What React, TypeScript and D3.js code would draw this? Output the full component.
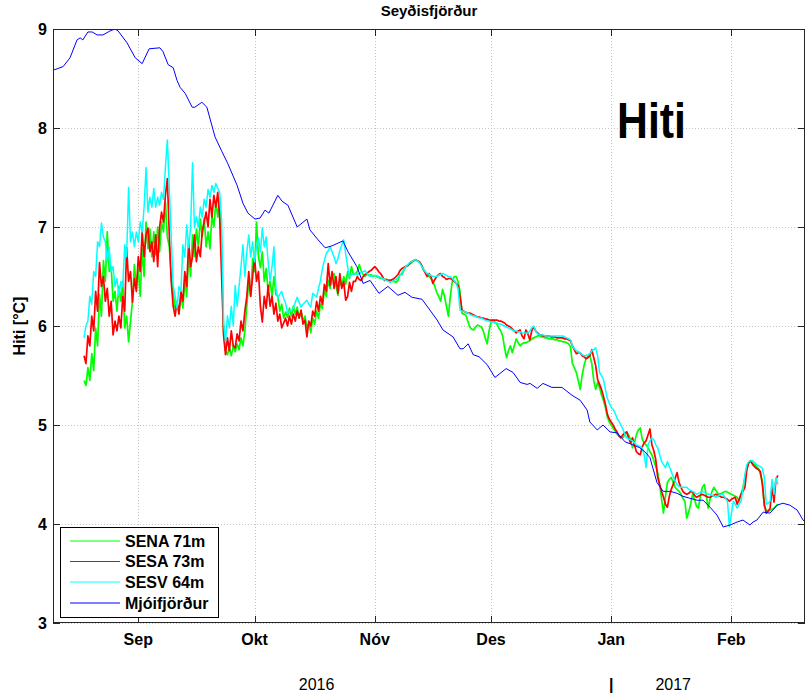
import React from 'react';
import * as d3 from 'd3';

// ---- data ----
const chartTitle = 'Seyðisfjörður';
const yAxisLabel = 'Hiti [°C]';
const panelLabel = 'Hiti';

// time axis: days counted from this date
const baseDate = '2016-08-10';
const axisEndDay = 194;
const monthTickDates = ['2016-09-01', '2016-10-01', '2016-11-01', '2016-12-01', '2017-01-01', '2017-02-01'];
const monthTickLabels = ['Sep', 'Okt', 'Nóv', 'Des', 'Jan', 'Feb'];
const yTickValues = [3, 4, 5, 6, 7, 8, 9];
const yearLabels = ['2016', '2017'];
const yearLabelDates = ['2016-10-17', '2017-01-17'];
const yearSeparatorDate = '2017-01-01';

// buoy series are sampled every half day starting at day 8 (Aug 18)
const buoyStartDay = 8;
const buoyStepDays = 0.5;

const senaTemp = [
  5.45,5.40,5.58,5.45,5.72,5.55,5.98,5.80,6.32,6.10,
  6.66,6.45,6.95,6.55,6.60,6.25,6.35,6.15,6.40,6.25,
  6.45,5.98,6.10,5.84,6.05,6.25,6.62,6.38,6.58,6.30,
  6.78,6.50,7.05,6.78,6.98,6.70,6.95,6.72,7.00,6.75,
  7.05,6.95,7.25,6.90,6.80,6.50,6.35,6.18,6.22,6.14,
  6.30,6.18,6.45,6.30,6.72,6.50,6.92,6.70,6.98,6.80,
  7.08,6.90,7.09,6.80,6.95,6.78,7.12,7.00,7.25,7.10,
  7.29,6.80,5.95,5.75,5.71,5.78,5.70,5.80,5.74,5.82,
  5.76,5.88,5.80,5.95,6.20,6.45,6.30,6.68,6.55,7.05,
  6.70,6.59,6.75,6.45,6.58,6.35,6.45,6.30,6.50,6.32,
  6.30,6.15,6.22,6.08,6.14,6.09,6.18,6.10,6.20,6.12,
  6.19,6.08,6.15,6.05,6.10,5.98,6.03,5.93,6.08,6.02,
  6.15,6.08,6.22,6.18,6.36,6.30,6.46,6.38,6.50,6.53,
  6.42,6.31,6.45,6.40,6.50,6.42,6.55,6.48,6.60,6.52,
  6.53,6.55,6.62,6.56,6.52,6.50,6.53,6.51,6.52,6.50,
  6.51,6.50,6.49,6.48,6.48,6.47,6.47,6.46,6.46,6.45,
  6.45,6.44,6.46,6.52,6.52,6.56,6.60,6.61,6.63,6.64,
  6.66,6.67,6.66,6.65,6.62,6.57,6.55,6.52,6.50,6.48,
  6.45,6.40,6.34,6.30,6.25,6.37,6.30,6.20,6.10,6.30,
  6.45,6.50,6.50,6.45,6.35,6.13,6.12,6.11,6.05,5.99,
  5.97,5.96,5.99,6.01,6.00,5.99,5.95,5.88,5.82,5.95,
  6.04,6.06,6.04,6.02,5.98,5.95,5.90,5.78,5.68,5.75,
  5.80,5.73,5.80,5.87,5.83,5.80,5.82,5.83,5.83,5.84,
  5.85,5.87,5.88,5.89,5.90,5.90,5.89,5.89,5.88,5.88,
  5.87,5.87,5.87,5.86,5.86,5.85,5.85,5.84,5.84,5.83,
  5.82,5.79,5.62,5.58,5.53,5.45,5.36,5.50,5.60,5.67,
  5.69,5.70,5.62,5.45,5.36,5.43,5.38,5.30,5.25,5.18,
  5.08,5.03,5.00,4.97,4.94,4.91,4.89,4.88,4.87,4.90,
  4.93,4.90,4.85,4.77,4.82,4.90,4.95,4.97,4.86,4.82,
  4.80,4.77,4.73,4.70,4.64,4.58,4.52,4.40,4.25,4.11,
  4.28,4.42,4.45,4.47,4.42,4.37,4.35,4.33,4.30,4.26,
  4.23,4.06,4.12,4.20,4.30,4.25,4.18,4.16,4.28,4.37,
  4.40,4.30,4.16,4.25,4.33,4.37,4.34,4.31,4.30,4.31,
  4.32,4.33,4.32,4.31,4.30,4.29,4.28,4.27,4.23,4.30,
  4.37,4.47,4.57,4.62,4.63,4.61,4.60,4.58,4.56,4.50,
  4.43,4.18,4.14,4.13,4.14,4.15,4.16,4.18,4.20,
];

const sesaTemp = [
  5.70,5.62,5.90,5.80,6.10,5.95,6.35,6.15,6.64,6.40,
  6.50,6.25,6.38,6.10,6.25,5.91,6.05,5.95,6.10,5.98,
  6.30,6.15,6.79,6.45,6.55,6.24,6.48,6.35,6.70,6.55,
  6.95,6.70,6.92,6.99,6.75,6.85,6.65,6.92,6.60,7.00,
  7.15,7.05,7.32,7.49,6.92,6.45,6.20,6.10,6.25,6.12,
  6.35,6.25,6.55,6.40,6.85,6.60,6.70,6.92,6.65,6.80,
  6.70,6.95,7.05,7.15,7.00,7.28,7.10,7.32,7.20,7.35,
  7.10,6.51,5.91,5.71,5.88,5.75,5.95,5.80,5.78,5.92,
  5.85,6.05,5.95,6.15,6.30,6.55,6.30,6.50,6.69,6.45,
  6.55,6.20,6.04,6.30,6.18,6.41,6.20,6.30,6.12,6.23,
  6.05,6.12,5.98,6.03,6.08,6.00,6.10,6.02,6.12,6.05,
  6.15,6.08,6.16,6.02,6.06,5.89,6.05,6.00,6.15,6.10,
  6.25,6.15,6.30,6.22,6.42,6.35,6.63,6.41,6.55,6.38,
  6.50,6.33,6.53,6.38,6.45,6.26,6.30,6.44,6.35,6.45,
  6.45,6.50,6.47,6.46,6.50,6.52,6.53,6.55,6.56,6.58,
  6.60,6.58,6.55,6.53,6.50,6.46,6.47,6.46,6.46,6.47,
  6.48,6.50,6.52,6.56,6.58,6.59,6.60,6.61,6.63,6.65,
  6.66,6.67,6.66,6.65,6.62,6.58,6.54,6.50,6.53,6.50,
  6.43,6.47,6.50,6.52,6.53,6.50,6.49,6.47,6.48,6.48,
  6.47,6.45,6.43,6.41,6.30,6.16,6.15,6.14,6.13,6.13,
  6.12,6.11,6.10,6.09,6.09,6.08,6.08,6.07,6.07,6.06,
  6.06,6.06,6.06,6.06,6.05,6.05,6.04,6.03,6.01,6.00,
  5.99,5.97,5.95,5.93,5.95,5.96,5.90,5.87,5.96,5.92,
  5.86,5.95,5.99,5.95,5.93,5.91,5.91,5.90,5.90,5.90,
  5.90,5.89,5.89,5.89,5.88,5.88,5.88,5.88,5.87,5.87,
  5.86,5.85,5.80,5.76,5.72,5.73,5.73,5.70,5.69,5.67,
  5.68,5.70,5.76,5.68,5.60,5.46,5.41,5.36,5.29,5.21,
  5.11,5.06,5.03,5.00,4.96,4.93,4.89,4.87,4.90,4.92,
  4.93,4.87,4.82,4.87,4.80,4.73,4.71,4.70,4.78,4.82,
  4.84,4.90,4.96,4.80,4.74,4.65,4.47,4.40,4.33,4.27,
  4.20,4.17,4.28,4.35,4.40,4.46,4.52,4.42,4.37,4.33,
  4.31,4.30,4.31,4.33,4.32,4.29,4.27,4.28,4.29,4.30,
  4.29,4.28,4.27,4.27,4.28,4.29,4.30,4.29,4.28,4.27,
  4.27,4.26,4.25,4.23,4.25,4.26,4.27,4.20,4.25,4.30,
  4.33,4.37,4.55,4.62,4.64,4.60,4.58,4.56,4.55,4.53,
  4.40,4.20,4.11,4.13,4.16,4.38,4.22,4.45,4.49,
];

const sesvTemp = [
  5.88,6.00,6.05,6.30,6.22,6.55,6.50,6.85,6.80,7.04,
  6.90,6.85,6.65,6.79,6.55,6.60,6.40,6.48,6.31,6.45,
  6.40,6.82,6.70,7.40,6.85,6.95,6.80,6.95,6.85,7.05,
  6.95,7.20,7.60,7.15,7.30,7.20,7.39,7.20,7.30,7.22,
  7.35,7.28,7.60,7.88,7.40,6.90,6.41,6.30,6.18,6.40,
  6.35,6.82,6.70,7.02,6.79,7.00,7.65,6.99,7.10,7.00,
  7.20,7.10,7.28,7.20,7.38,7.30,7.42,7.35,7.44,7.39,
  7.35,7.05,6.04,5.84,6.10,5.98,6.20,6.00,6.41,6.20,
  6.40,6.60,6.82,6.50,6.75,6.92,6.70,6.85,6.65,6.80,
  6.89,6.75,6.99,6.80,6.90,6.65,6.46,6.60,6.80,6.38,
  6.28,6.32,6.35,6.28,6.23,6.13,6.15,6.16,6.18,6.24,
  6.29,6.24,6.19,6.22,6.24,6.26,6.22,6.19,6.33,6.31,
  6.29,6.38,6.46,6.58,6.66,6.73,6.76,6.80,6.75,6.70,
  6.63,6.68,6.76,6.82,6.87,6.73,6.60,6.50,6.52,6.53,
  6.53,6.52,6.53,6.54,6.55,6.56,6.53,6.51,6.50,6.51,
  6.51,6.51,6.50,6.49,6.48,6.47,6.46,6.45,6.44,6.45,
  6.46,6.47,6.49,6.51,6.54,6.57,6.60,6.62,6.64,6.65,
  6.66,6.67,6.66,6.64,6.61,6.58,6.55,6.53,6.52,6.51,
  6.50,6.50,6.50,6.51,6.52,6.53,6.52,6.51,6.50,6.50,
  6.48,6.46,6.43,6.38,6.16,6.15,6.15,6.14,6.13,6.12,
  6.11,6.10,6.10,6.09,6.08,6.08,6.07,6.06,6.05,6.05,
  6.04,6.04,6.03,6.03,6.02,6.02,6.01,6.00,5.99,5.98,
  5.97,5.96,5.95,5.95,5.94,5.94,5.93,5.93,5.93,5.93,
  5.95,5.98,6.00,5.95,5.92,5.91,5.91,5.91,5.90,5.90,
  5.90,5.90,5.90,5.90,5.90,5.90,5.90,5.90,5.89,5.88,
  5.87,5.86,5.80,5.77,5.75,5.74,5.73,5.71,5.70,5.70,
  5.71,5.72,5.75,5.76,5.78,5.70,5.53,5.50,5.46,5.36,
  5.27,5.22,5.18,5.16,5.12,5.07,5.04,5.00,4.96,4.91,
  4.87,4.86,4.85,4.84,4.82,4.80,4.79,4.78,4.77,4.70,
  4.57,4.80,4.84,4.87,4.85,4.80,4.77,4.70,4.63,4.60,
  4.57,4.63,4.58,4.53,4.48,4.43,4.40,4.38,4.37,4.37,
  4.37,4.37,4.35,4.34,4.33,4.32,4.30,4.31,4.32,4.33,
  4.32,4.31,4.30,4.30,4.29,4.28,4.27,4.28,4.29,4.30,
  4.29,4.26,4.23,3.97,4.10,4.23,4.20,4.16,4.20,4.23,
  4.35,4.50,4.60,4.63,4.64,4.64,4.62,4.60,4.59,4.58,
  4.56,4.47,4.20,4.21,4.23,4.45,4.30,4.47,4.40,
];

// Mjóifjörður: day offsets and temperatures
const mjoiDay = [
  0,0.5,2.6,4.4,6.2,7.0,7.7,9.0,10.1,11.4,12.9,14.7,16.0,16.8,19.1,21.2,23.0,24.8,27.6,28.4,
  29.7,31.0,32.0,32.8,34.1,35.9,36.6,38.4,39.7,41.8,43.6,45.1,47.5,49.0,50.3,52.1,53.4,54.7,55.7,58.0,
  59.1,60.6,63.0,65.5,66.3,68.4,70.2,72.0,74.8,76.1,78.4,80.0,81.8,84.1,86.4,89.0,90.8,92.6,95.2,96.7,
  99.1,100.6,103.2,105.0,105.8,107.1,108.4,109.9,112.0,114.0,115.3,116.9,118.7,120.5,122.3,123.1,124.9,126.4,128.7,131.3,
  133.9,136.0,137.8,138.5,140.4,141.9,143.7,145.5,147.6,149.6,151.4,152.7,154.0,155.8,157.4,159.2,161.0,162.5,164.3,166.2,
  167.7,169.5,171.3,172.9,174.7,176.5,178.0,179.8,180.6,181.6,183.2,185.0,186.8,188.3,190.1,192.0,193.5,194.0,
];
const mjoiTemp = [
  8.59,8.59,8.62,8.71,8.89,8.91,8.89,8.97,8.97,8.94,8.94,8.98,9.00,8.98,8.86,8.71,8.65,8.80,8.81,8.77,
  8.64,8.61,8.48,8.41,8.35,8.21,8.21,8.26,8.21,7.91,7.76,7.64,7.42,7.24,7.14,7.08,7.09,7.17,7.14,7.32,
  7.26,7.22,7.00,7.08,6.97,6.87,6.79,6.81,6.86,6.75,6.60,6.43,6.46,6.33,6.40,6.31,6.34,6.29,6.27,6.19,
  6.06,5.96,5.89,5.77,5.77,5.82,5.71,5.69,5.61,5.48,5.52,5.57,5.53,5.43,5.41,5.42,5.37,5.42,5.38,5.38,
  5.30,5.25,5.15,5.03,4.95,5.00,4.93,4.92,4.83,4.80,4.77,4.73,4.67,4.42,4.33,4.33,4.31,4.28,4.26,4.24,
  4.24,4.17,4.09,3.97,3.99,4.02,4.04,3.99,4.02,4.04,4.12,4.11,4.19,4.21,4.19,4.14,4.04,4.02,
];

const seriesNames = ['SENA 71m', 'SESA 73m', 'SESV 64m', 'Mjóifjörður'];
const seriesColors = ['#00ff00', '#ff0000', '#00ffff', '#0000ff'];

const FONT = 'Arial, "Liberation Sans", Helvetica, sans-serif';

export default function App() {
  const W = 807;
  const H = 698;
  const plot = { left: 53, right: 805, top: 29, bottom: 623 };
  const DAY = 86400000;
  const t0 = Date.parse(baseDate + 'T00:00:00Z');
  const toDate = (d: number) => new Date(t0 + d * DAY);

  const x = d3.scaleUtc().domain([toDate(0), toDate(axisEndDay)]).range([plot.left, plot.right]);
  const y = d3.scaleLinear().domain([3, 9]).range([plot.bottom, plot.top]);

  const line = d3
    .line<[number, number]>()
    .x((d) => x(toDate(d[0])))
    .y((d) => y(d[1]));

  const buoy = (arr: number[]) => arr.map((v, i) => [buoyStartDay + i * buoyStepDays, v] as [number, number]);
  const seriesPts: [number, number][][] = [
    buoy(senaTemp),
    buoy(sesaTemp),
    buoy(sesvTemp),
    mjoiDay.map((d, i) => [d, mjoiTemp[i]] as [number, number]),
  ];
  const seriesWidths = [1.7, 1.7, 1.5, 1];

  const monthX = monthTickDates.map((s) => x(new Date(s + 'T00:00:00Z')));
  const axisColor = '#262626';
  const gridColor = '#c4c4c4';
  const tickLen = 7;

  const legend = { x: 60, y: 527, w: 158, h: 90 };
  const legendRows = [541, 561.5, 582, 603];

  return (
    <svg
      width={W}
      height={H}
      viewBox={`0 0 ${W} ${H}`}
      style={{ position: 'absolute', left: 0, top: 0, background: '#fff' }}
      fontFamily={FONT}
    >
      <rect x={0} y={0} width={W} height={H} fill="#fff" />
      <defs>
        <clipPath id="plotclip">
          <rect x={plot.left} y={plot.top} width={plot.right - plot.left} height={plot.bottom - plot.top} />
        </clipPath>
      </defs>

      {/* grid */}
      <g stroke={gridColor} strokeWidth={1} strokeDasharray="1 2" shapeRendering="crispEdges">
        {monthX.map((mx, i) => (
          <line key={'gx' + i} x1={Math.round(mx) + 0.5} x2={Math.round(mx) + 0.5} y1={plot.top} y2={plot.bottom} />
        ))}
        {yTickValues.map((v) => (
          <line key={'gy' + v} x1={plot.left} x2={plot.right} y1={Math.round(y(v)) + 0.5} y2={Math.round(y(v)) + 0.5} />
        ))}
      </g>

      {/* data lines */}
      <g clipPath="url(#plotclip)" fill="none">
        {seriesPts.map((pts, i) => (
          <path
            key={'s' + i}
            d={line(pts) || ''}
            stroke={seriesColors[i]}
            strokeWidth={seriesWidths[i]}
            strokeLinejoin="round"
          />
        ))}
      </g>

      {/* axes box */}
      <rect
        x={plot.left + 0.5}
        y={plot.top + 0.5}
        width={plot.right - plot.left - 1}
        height={plot.bottom - plot.top - 1}
        fill="none"
        stroke={axisColor}
        strokeWidth={1}
        shapeRendering="crispEdges"
      />

      {/* ticks */}
      <g stroke={axisColor} strokeWidth={1} shapeRendering="crispEdges">
        {monthX.map((mx, i) => {
          const xx = Math.round(mx) + 0.5;
          return (
            <g key={'tx' + i}>
              <line x1={xx} x2={xx} y1={plot.bottom} y2={plot.bottom - tickLen} />
              <line x1={xx} x2={xx} y1={plot.top} y2={plot.top + tickLen} />
            </g>
          );
        })}
        {yTickValues.map((v) => {
          const yy = Math.round(y(v)) + 0.5;
          return (
            <g key={'ty' + v}>
              <line x1={plot.left} x2={plot.left + tickLen} y1={yy} y2={yy} />
              <line x1={plot.right} x2={plot.right - tickLen} y1={yy} y2={yy} />
            </g>
          );
        })}
      </g>

      {/* tick labels */}
      <g fontSize={16} fontWeight="bold" fill="#000">
        {yTickValues.map((v) => (
          <text key={'yl' + v} x={47} y={y(v)} dy="0.36em" textAnchor="end">
            {v}
          </text>
        ))}
        {monthTickLabels.map((lab, i) => (
          <text key={'xl' + i} x={monthX[i]} y={645} textAnchor="middle">
            {lab}
          </text>
        ))}
      </g>

      {/* year labels */}
      <g fontSize={16} fill="#000">
        {yearLabels.map((lab, i) => (
          <text key={'yr' + i} x={x(new Date(yearLabelDates[i] + 'T00:00:00Z'))} y={690} textAnchor="middle">
            {lab}
          </text>
        ))}
        <text x={x(new Date(yearSeparatorDate + 'T00:00:00Z'))} y={690} textAnchor="middle" fontWeight="bold">
          |
        </text>
      </g>

      {/* title */}
      <text x={(plot.left + plot.right) / 2} y={16} textAnchor="middle" fontSize={15} fontWeight="bold" fill="#000">
        {chartTitle}
      </text>

      {/* y axis label */}
      <text
        transform={`translate(25,${(plot.top + plot.bottom) / 2}) rotate(-90)`}
        textAnchor="middle"
        fontSize={16}
        fontWeight="bold"
        fill="#000"
      >
        {yAxisLabel}
      </text>

      {/* big panel label */}
      <text
        x={617}
        y={138}
        fontSize={50}
        fontWeight="bold"
        textLength={69}
        lengthAdjust="spacingAndGlyphs"
        fill="#000"
      >
        {panelLabel}
      </text>

      {/* legend */}
      <g>
        <rect
          x={legend.x + 0.5}
          y={legend.y + 0.5}
          width={legend.w}
          height={legend.h}
          fill="#fff"
          stroke="#000"
          strokeWidth={1}
          shapeRendering="crispEdges"
        />
        {seriesNames.map((name, i) => (
          <g key={'lg' + i}>
            <line x1={70} x2={120} y1={legendRows[i]} y2={legendRows[i]} stroke={seriesColors[i]} strokeWidth={1} />
            <text x={125} y={legendRows[i]} dy="0.36em" fontSize={16} fontWeight="bold" fill="#000">
              {name}
            </text>
          </g>
        ))}
      </g>
    </svg>
  );
}
